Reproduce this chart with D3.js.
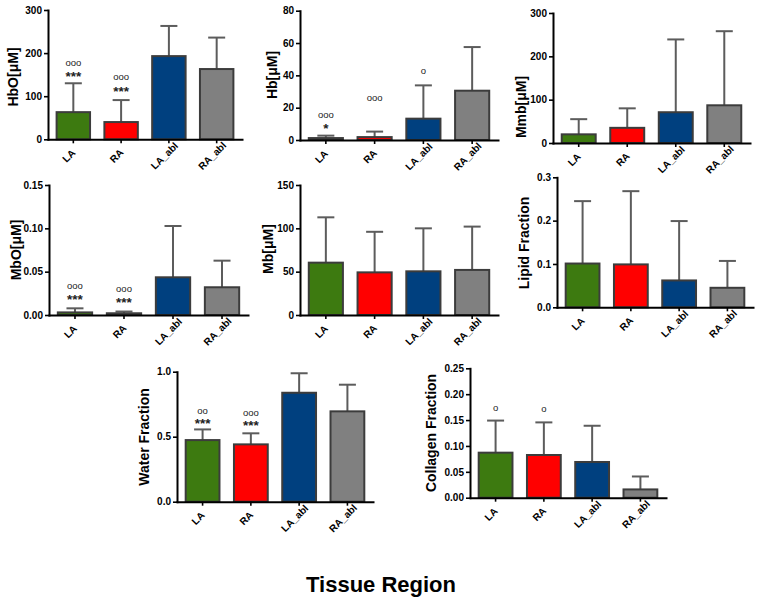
<!DOCTYPE html>
<html>
<head>
<meta charset="utf-8">
<script src="https://cdn.jsdelivr.net/npm/d3@7"></script>
<style>
    body { margin: 0; background: #fff; }
    text { font-family: "Liberation Sans", Arial, sans-serif; }
    .axis text { font-weight: bold; font-size: 10px; fill: #000; }
    .axis .domain { stroke: #000; stroke-width: 2; stroke-linecap: square; }
    .axis .tick line { stroke: #000; stroke-width: 1.6; }
</style>
</head>
<body>
<div id="display"></div>
<script>
const regions = ["LA", "RA", "LA_abl", "RA_abl"];

// bar means and SD (upper error bar)
const hboMean = [63, 40, 193, 163];
const hboSd = [67, 51, 70, 73];
const hbMean = [1.2, 1.8, 13.2, 30.5];
const hbSd = [1.5, 3.4, 20.6, 27];
const mmbMean = [20, 35, 71, 87];
const mmbSd = [35, 45, 168, 171];
const mboMean = [0.003, 0.002, 0.0435, 0.032];
const mboSd = [0.0047, 0.002, 0.0592, 0.0307];
const mbMean = [60.4, 49.2, 50.4, 52];
const mbSd = [52.3, 46.8, 49.6, 50];
const lipidMean = [0.101, 0.099, 0.062, 0.045];
const lipidSd = [0.144, 0.169, 0.137, 0.062];
const waterMean = [0.474, 0.441, 0.838, 0.695];
const waterSd = [0.082, 0.085, 0.15, 0.205];
const collagenMean = [0.087, 0.0825, 0.069, 0.016];
const collagenSd = [0.062, 0.063, 0.07, 0.025];

// y tick values
const hboTicks = [0, 100, 200, 300];
const hbTicks = [0, 20, 40, 60, 80];
const mmbTicks = [0, 100, 200, 300];
const mboTicks = [0, 0.05, 0.10, 0.15];
const mbTicks = [0, 50, 100, 150];
const lipidTicks = [0, 0.1, 0.2, 0.3];
const waterTicks = [0, 0.5, 1.0];
const collagenTicks = [0, 0.05, 0.10, 0.15, 0.20, 0.25];

// significance marks: [region, mark, level (data units)]
const hboMarks = [["LA", "ooo", 171], ["LA", "***", 154], ["RA", "ooo", 138], ["RA", "***", 119]];
const hbMarks = [["LA", "ooo", 13.8], ["LA", "*", 9.3], ["RA", "ooo", 24.1], ["LA_abl", "o", 40.8]];
const mboMarks = [["LA", "ooo", 0.030], ["LA", "***", 0.0211], ["RA", "ooo", 0.0269], ["RA", "***", 0.0181]];
const waterMarks = [["LA", "oo", 0.68], ["LA", "***", 0.625], ["RA", "ooo", 0.662], ["RA", "***", 0.608]];
const collagenMarks = [["LA", "o", 0.168], ["RA", "o", 0.166]];

const colors = ["#3d7a10", "#ff0000", "#00407f", "#808080"];

var width = 759,
    height = 605;

var svg = d3.select("#display").append("svg")
    .attr("width", width)
    .attr("height", height);

// panel layout (pixels)
var panels = [
    { label: "HbO[μM]", mean: hboMean, sd: hboSd, ticks: hboTicks, fmt: "d", max: 300, marks: hboMarks,
      x0: 48, x1: 242, top: 10, bot: 139.3, lx: 13, ly: 77 },
    { label: "Hb[μM]", mean: hbMean, sd: hbSd, ticks: hbTicks, fmt: "d", max: 80, marks: hbMarks,
      x0: 300, x1: 498, top: 10.7, bot: 140, lx: 272, ly: 75 },
    { label: "Mmb[μM]", mean: mmbMean, sd: mmbSd, ticks: mmbTicks, fmt: "d", max: 300, marks: [],
      x0: 553, x1: 750, top: 13, bot: 143, lx: 521, ly: 107 },
    { label: "MbO[μM]", mean: mboMean, sd: mboSd, ticks: mboTicks, fmt: ".2f", max: 0.15, marks: mboMarks,
      x0: 49, x1: 248, top: 185, bot: 315, lx: 16, ly: 250 },
    { label: "Mb[μM]", mean: mbMean, sd: mbSd, ticks: mbTicks, fmt: "d", max: 150, marks: [],
      x0: 300, x1: 498, top: 185, bot: 315, lx: 268, ly: 249 },
    { label: "Lipid Fraction", mean: lipidMean, sd: lipidSd, ticks: lipidTicks, fmt: ".1f", max: 0.3, marks: [],
      x0: 557, x1: 753, top: 177.3, bot: 307.3, lx: 524, ly: 243 },
    { label: "Water Fraction", mean: waterMean, sd: waterSd, ticks: waterTicks, fmt: ".1f", max: 1.0, marks: waterMarks,
      x0: 177, x1: 373, top: 371.7, bot: 501.7, lx: 144, ly: 437 },
    { label: "Collagen Fraction", mean: collagenMean, sd: collagenSd, ticks: collagenTicks, fmt: ".2f", max: 0.25, marks: collagenMarks,
      x0: 470, x1: 666, top: 368.3, bot: 497.7, lx: 431, ly: 433 }
];

function drawPanel(p) {
    var x = d3.scaleBand().domain(regions).range([p.x0, p.x1]).paddingInner(0.3).paddingOuter(0.18);
    var y = d3.scaleLinear().domain([0, p.max]).range([p.bot, p.top]);
    var cx = function (i) { return x(regions[i]) + x.bandwidth() / 2; };

    var g = svg.append("g");

    // error bars (upper only)
    g.selectAll(".err")
        .data(p.mean)
        .enter().append("line")
        .attr("class", "err")
        .attr("x1", function (d, i) { return cx(i); })
        .attr("x2", function (d, i) { return cx(i); })
        .attr("y1", function (d) { return y(d); })
        .attr("y2", function (d, i) { return y(d + p.sd[i]); })
        .attr("stroke", "#5c5c5c")
        .attr("stroke-width", 2);

    g.selectAll(".cap")
        .data(p.mean)
        .enter().append("line")
        .attr("class", "cap")
        .attr("x1", function (d, i) { return cx(i) - 8.5; })
        .attr("x2", function (d, i) { return cx(i) + 8.5; })
        .attr("y1", function (d, i) { return y(d + p.sd[i]); })
        .attr("y2", function (d, i) { return y(d + p.sd[i]); })
        .attr("stroke", "#5c5c5c")
        .attr("stroke-width", 2);

    g.selectAll(".bar")
        .data(p.mean)
        .enter().append("rect")
        .attr("class", "bar")
        .attr("x", function (d, i) { return x(regions[i]); })
        .attr("width", x.bandwidth())
        .attr("y", function (d) { return y(d); })
        .attr("height", function (d) { return p.bot - y(d); })
        .attr("fill", function (d, i) { return colors[i]; })
        .attr("stroke", "#3c3c3c")
        .attr("stroke-width", 2);

    // x axis with rotated labels
    g.append("g")
        .attr("class", "axis")
        .attr("transform", "translate(0," + p.bot + ")")
        .call(d3.axisBottom(x).tickSize(4).tickSizeOuter(0))
        .selectAll("text")
        .attr("y", null)
        .attr("dy", null)
        .attr("text-anchor", "middle")
        .attr("transform", "translate(-2,19) rotate(-45)");

    g.append("g")
        .attr("class", "axis")
        .attr("transform", "translate(" + p.x0 + ",0)")
        .call(d3.axisLeft(y).tickValues(p.ticks).tickFormat(d3.format(p.fmt)).tickSize(4).tickSizeOuter(0).tickPadding(2));

    g.append("text")
        .attr("transform", "translate(" + p.lx + "," + p.ly + ") rotate(-90)")
        .attr("text-anchor", "middle")
        .attr("dominant-baseline", "central")
        .attr("font-size", "14px")
        .attr("font-weight", "bold")
        .text(p.label);

    // significance marks (circles sit a touch higher so the two rows don't collide)
    g.selectAll(".mark")
        .data(p.marks)
        .enter().append("text")
        .attr("class", "mark")
        .attr("x", function (d) { return x(d[0]) + x.bandwidth() / 2; })
        .attr("y", function (d) { return y(d[2]) + (d[1][0] === "*" ? 7.6 : 0.3); })
        .attr("text-anchor", "middle")
        .attr("fill", "#222")
        .attr("font-size", function (d) { return d[1][0] === "*" ? "13.5px" : "9.5px"; })
        .attr("font-weight", function (d) { return d[1][0] === "*" ? "bold" : "normal"; })
        .text(function (d) { return d[1]; });
}

panels.forEach(drawPanel);

svg.append("text")
    .attr("x", 381)
    .attr("y", 592)
    .attr("text-anchor", "middle")
    .attr("font-size", "22px")
    .attr("font-weight", "bold")
    .text("Tissue Region");
</script>
</body>
</html>
